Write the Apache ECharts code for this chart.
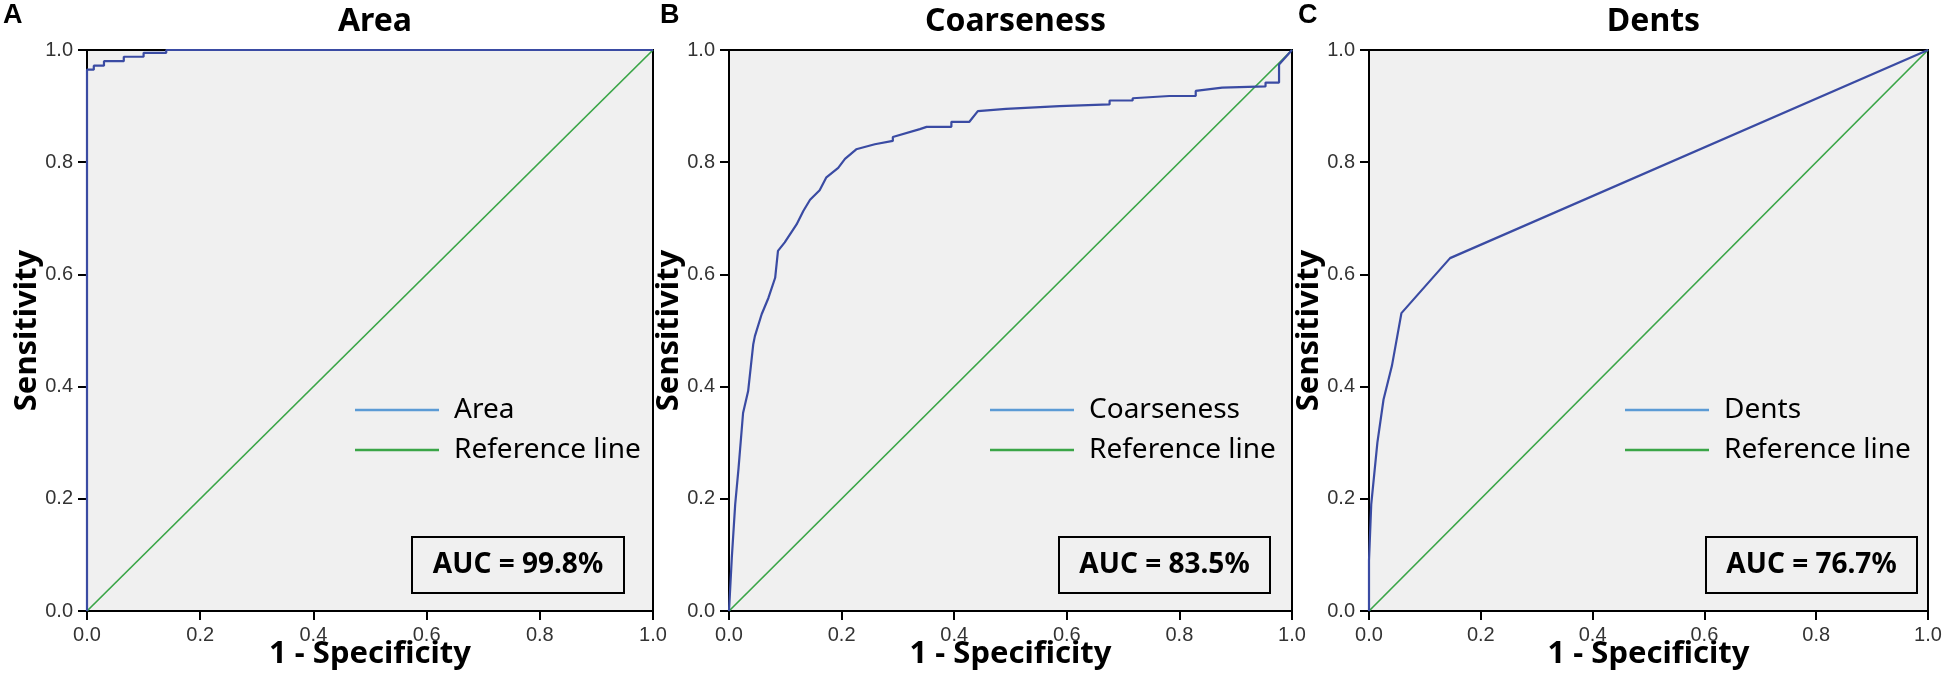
<!DOCTYPE html>
<html>
<head>
<meta charset="utf-8">
<script src="https://cdn.jsdelivr.net/npm/echarts@6.0.0/dist/echarts.min.js"></script>
<style>
  html, body { margin: 0; padding: 0; background: #fff; }
  #chart { width: 1950px; height: 697px; }
</style>
</head>
<body>
<div id="chart"></div>
<script>
// values: [1 - specificity, sensitivity]
var areaRoc = [
  [0, 0], [0, 0.965], [0.012, 0.972], [0.03, 0.98], [0.065, 0.988],
  [0.1, 0.995], [0.14, 1], [1, 1]
];
var coarsenessRoc = [
  [0, 0], [0.005, 0.095], [0.011, 0.19], [0.017, 0.255], [0.025, 0.353],
  [0.034, 0.392], [0.043, 0.475], [0.046, 0.49], [0.058, 0.529], [0.07, 0.558],
  [0.082, 0.594], [0.087, 0.642], [0.099, 0.657], [0.12, 0.689], [0.132, 0.713],
  [0.144, 0.733], [0.161, 0.75], [0.173, 0.773], [0.194, 0.79], [0.206, 0.806],
  [0.226, 0.823], [0.259, 0.832], [0.291, 0.838], [0.291, 0.845], [0.339, 0.859],
  [0.351, 0.863], [0.395, 0.863], [0.395, 0.872], [0.427, 0.872], [0.442, 0.891],
  [0.492, 0.895], [0.587, 0.9], [0.676, 0.903], [0.676, 0.91], [0.717, 0.91],
  [0.717, 0.914], [0.782, 0.918], [0.829, 0.918], [0.829, 0.927], [0.876, 0.933],
  [0.953, 0.935], [0.953, 0.942], [0.977, 0.942], [0.977, 0.974], [1, 1]
];
var dentsRoc = [
  [0, 0], [0, 0.09], [0.004, 0.19], [0.015, 0.3], [0.026, 0.377],
  [0.041, 0.437], [0.058, 0.531], [0.145, 0.629], [1, 1]
];
var referenceLine = [[0, 0], [1, 1]];

var panelNames = ['Area', 'Coarseness', 'Dents'];
var panelLetters = ['A', 'B', 'C'];
var aucLabels = ['AUC = 99.8%', 'AUC = 83.5%', 'AUC = 76.7%'];
var tickLabels = ['0.0', '0.2', '0.4', '0.6', '0.8', '1.0'];

// layout of the three panels (px)
var grids = [
  { left: 87, top: 50, width: 566, height: 561 },
  { left: 729, top: 50, width: 563, height: 561 },
  { left: 1369, top: 50, width: 559, height: 561 }
];
var legendLeft = [350, 985, 1620];
var aucBoxes = [
  { x: 412, y: 537, w: 212, h: 56 },
  { x: 1059, y: 537, w: 211, h: 56 },
  { x: 1706, y: 537, w: 211, h: 56 }
];
var letterLeft = [3, 660, 1298];

var rocData = [areaRoc, coarsenessRoc, dentsRoc];
var labelFont = 'Noto Sans';

var chart = echarts.init(document.getElementById('chart'));

function axisCommon(name, isX) {
  return {
    type: 'value',
    min: 0,
    max: 1,
    interval: 0.2,
    name: name,
    nameLocation: 'middle',
    nameGap: isX ? 28 : 44,
    nameMoveOverlap: false,
    nameTextStyle: {
      fontFamily: labelFont,
      fontWeight: 'bold',
      fontSize: 31,
      color: '#000'
    },
    axisLine: { show: true, onZero: false, lineStyle: { color: '#000', width: 2 } },
    axisTick: { show: true, inside: false, length: 9, lineStyle: { color: '#000', width: 2 } },
    axisLabel: {
      show: true,
      margin: 14,
      fontFamily: 'Liberation Sans',
      fontSize: 20,
      color: '#333',
      formatter: function (v) {
        return tickLabels[Math.round(v / 0.2)];
      }
    },
    splitLine: { show: false }
  };
}

var option = {
  backgroundColor: '#ffffff',
  animation: false,
  title: [],
  legend: [],
  grid: [],
  xAxis: [],
  yAxis: [],
  series: [],
  graphic: []
};

for (var i = 0; i < 3; i++) {
  var g = grids[i];
  option.grid.push({
    left: g.left,
    top: g.top,
    width: g.width,
    height: g.height,
    show: true,
    backgroundColor: '#f0f0f0',
    borderColor: '#000',
    borderWidth: 2,
    outerBoundsMode: 'none'
  });

  var xa = axisCommon('1 - Specificity', true);
  xa.gridIndex = i;
  option.xAxis.push(xa);
  var ya = axisCommon('Sensitivity', false);
  ya.gridIndex = i;
  option.yAxis.push(ya);

  option.title.push({
    text: panelNames[i],
    left: g.left + g.width / 2,
    top: 1,
    textAlign: 'center',
    textStyle: {
      fontFamily: labelFont,
      fontWeight: 'bold',
      fontSize: 32,
      color: '#000'
    }
  });
  option.title.push({
    text: panelLetters[i],
    left: letterLeft[i],
    top: 2,
    padding: 0,
    textStyle: {
      fontFamily: 'Liberation Sans',
      fontWeight: 'bold',
      fontSize: 27,
      color: '#000'
    }
  });

  option.legend.push({
    orient: 'vertical',
    left: legendLeft[i],
    top: 390,
    icon: 'rect',
    itemWidth: 84,
    itemHeight: 2.5,
    itemGap: 10,
    selectedMode: false,
    textStyle: {
      fontFamily: labelFont,
      fontSize: 28,
      lineHeight: 30,
      color: '#000',
      padding: [0, 0, 0, 10]
    },
    data: [
      { name: panelNames[i], itemStyle: { color: '#5b9bd5' } },
      { name: 'Reference line', itemStyle: { color: '#3aa547' } }
    ]
  });

  option.series.push({
    name: panelNames[i],
    type: 'line',
    xAxisIndex: i,
    yAxisIndex: i,
    showSymbol: false,
    step: i === 0 ? 'end' : false,
    z: 3,
    lineStyle: { color: '#3a4ba3', width: 2.2 },
    itemStyle: { color: '#3a4ba3' },
    data: rocData[i]
  });
  option.series.push({
    name: 'Reference line',
    type: 'line',
    xAxisIndex: i,
    yAxisIndex: i,
    showSymbol: false,
    z: 2,
    lineStyle: { color: '#3aa547', width: 1.7 },
    itemStyle: { color: '#3aa547' },
    data: referenceLine
  });

  var b = aucBoxes[i];
  option.graphic.push({
    type: 'rect',
    shape: { x: b.x, y: b.y, width: b.w, height: b.h },
    style: { fill: '#f0f0f0', stroke: '#000', lineWidth: 2 },
    z: 10
  });
  option.graphic.push({
    type: 'text',
    x: b.x + b.w / 2,
    y: b.y + b.h / 2,
    style: {
      text: aucLabels[i],
      align: 'center',
      verticalAlign: 'middle',
      fontFamily: labelFont,
      fontWeight: 'bold',
      fontSize: 28,
      fill: '#000'
    },
    z: 11
  });
}

chart.setOption(option);
</script>
</body>
</html>
